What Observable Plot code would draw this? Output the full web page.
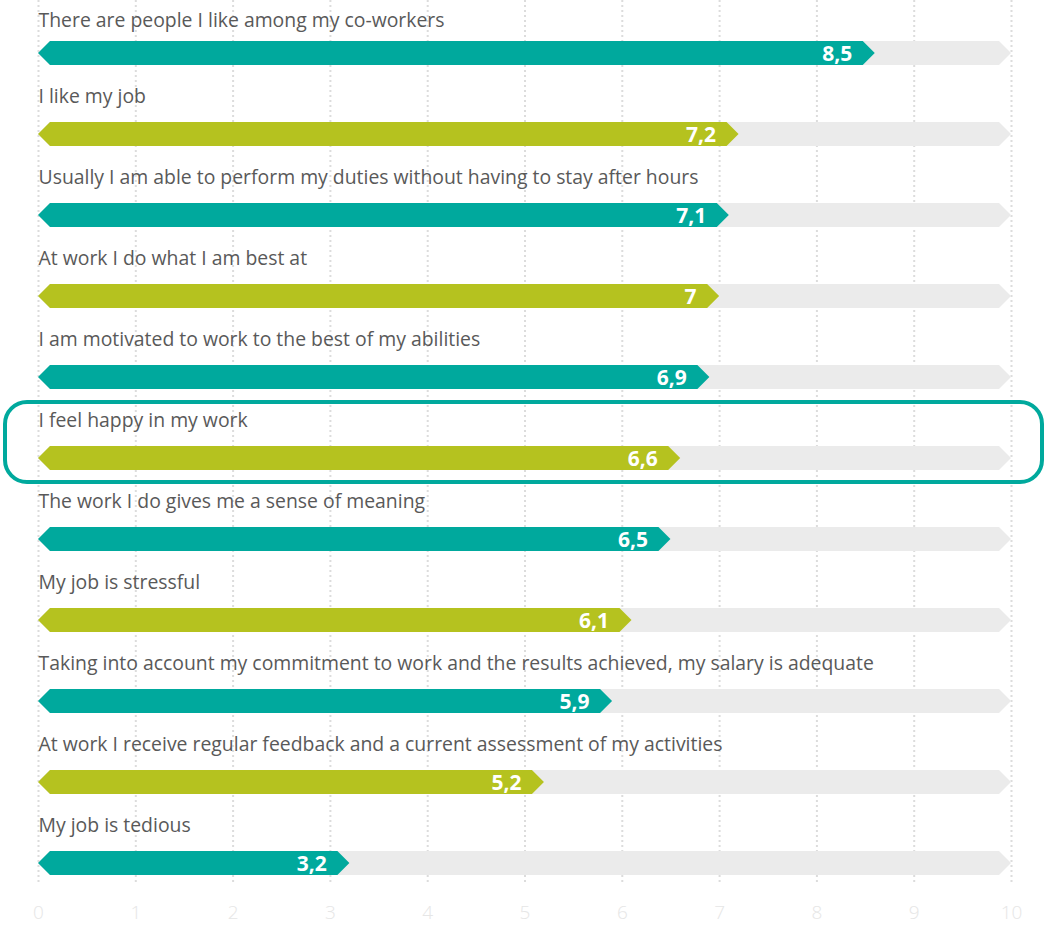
<!DOCTYPE html>
<html>
<head>
<meta charset="utf-8">
<script src="https://cdn.jsdelivr.net/npm/d3@7"></script>
<script src="https://cdn.jsdelivr.net/npm/@observablehq/plot@0.6"></script>
<style>
  html, body { margin: 0; padding: 0; background: #fff; }
  #chart svg { display: block; }
</style>
</head>
<body>
<div id="chart"></div>
<script>
const categories = [
  "There are people I like among my co-workers",
  "I like my job",
  "Usually I am able to perform my duties without having to stay after hours",
  "At work I do what I am best at",
  "I am motivated to work to the best of my abilities",
  "I feel happy in my work",
  "The work I do gives me a sense of meaning",
  "My job is stressful",
  "Taking into account my commitment to work and the results achieved, my salary is adequate",
  "At work I receive regular feedback and a current assessment of my activities",
  "My job is tedious"
];
const values = [8.6, 7.2, 7.1, 7, 6.9, 6.6, 6.5, 6.1, 5.9, 5.2, 3.2];
const valueLabels = ["8,5", "7,2", "7,1", "7", "6,9", "6,6", "6,5", "6,1", "5,9", "5,2", "3,2"];
const tickValues = [0, 1, 2, 3, 4, 5, 6, 7, 8, 9, 10];
const maxValue = 10;
const highlight = "I feel happy in my work";
const colors = ["#00A99D", "#B5C21F"];

const W = 1044, H = 925;
const x0 = 38, x1 = 1011;          // pixel range of x scale
const rowTop = 53, rowStep = 81;   // pixel centre of first bar, step
const pxPerUnit = (x1 - x0) / maxValue;
const tip = 12 / pxPerUnit;        // arrow tip length in data units
const half = 12 / rowStep;         // half bar height in y units

const rows = categories.map((c, i) => ({cat: c, i, v: values[i], lab: valueLabels[i], color: colors[i % 2]}));

function arrow(r, v) {
  return [
    {i: r.i, y: r.i - half, a: tip, b: Math.max(tip, v - tip)},
    {i: r.i, y: r.i, a: 0, b: v},
    {i: r.i, y: r.i + half, a: tip, b: Math.max(tip, v - tip)}
  ];
}
const bgPts = rows.flatMap(r => arrow(r, maxValue));
const fgPts = rows.flatMap(r => arrow(r, r.v).map(p => ({...p, color: r.color})));
const hi = rows.find(r => r.cat === highlight);

const n = categories.length;
const labelStyle = {x: 0, y: "i", text: "cat", textAnchor: "start", fill: "#595959", fontSize: 19.4};
const chart = Plot.plot({
  width: W,
  height: H,
  marginTop: 0,
  marginBottom: 40,
  marginLeft: 0,
  marginRight: 0,
  style: {fontFamily: "'Open Sans', sans-serif", background: "#fff"},
  x: {domain: [0, maxValue], range: [x0, x1], label: null},
  y: {type: "linear", domain: [0, n - 1], range: [rowTop, rowTop + rowStep * (n - 1)], axis: null},
  marks: [
    Plot.ruleX(tickValues, {x: d => d, stroke: "#dcdcdc", strokeWidth: 2, strokeDasharray: "2,3"}),
    Plot.areaX(bgPts, {y: "y", x1: "a", x2: "b", z: "i", fill: "#ebebeb", curve: "linear"}),
    Plot.areaX(fgPts, {y: "y", x1: "a", x2: "b", z: "i", fill: "color", curve: "linear"}),
    Plot.text(rows, {x: "v", y: "i", text: "lab", textAnchor: "end", dx: -23, dy: 1, fill: "#fff", fontSize: 21, fontWeight: "bold"}),
    Plot.text(rows.filter(r => r.i === 0), {...labelStyle, dy: -33}),
    Plot.text(rows.filter(r => r.i > 0), {...labelStyle, dy: -38}),
    Plot.rect([hi], {x1: 0, x2: maxValue, y1: "i", y2: "i", insetLeft: -33, insetRight: -31, insetTop: -56, insetBottom: -24, rx: 22, fill: "none", stroke: "#00A99D", strokeWidth: 4}),
    Plot.axisX({ticks: tickValues, tickSize: 0, tickPadding: 20, fontSize: 19, fill: "#e6e6e6", fontWeight: 300, label: null, tickFormat: d => String(d)})
  ]
});
document.getElementById("chart").appendChild(chart);
</script>
</body>
</html>
